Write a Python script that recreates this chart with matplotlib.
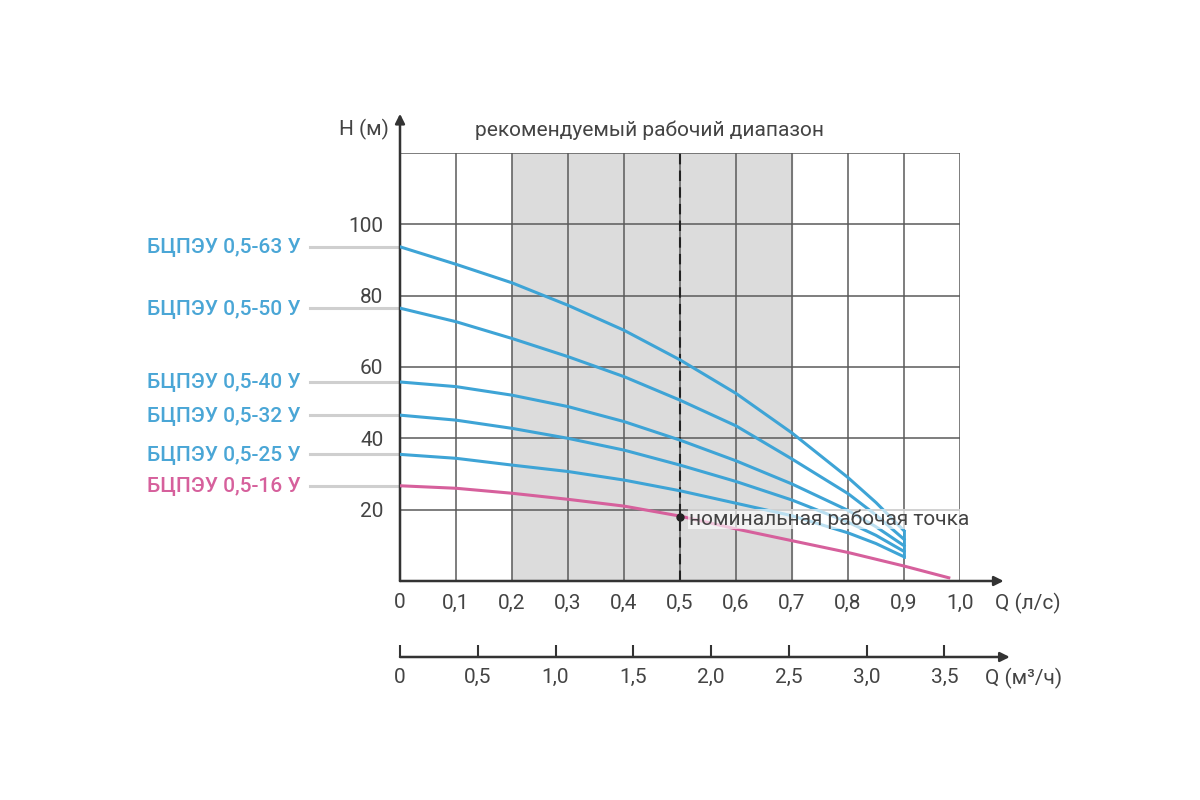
import matplotlib
matplotlib.use("Agg")
import matplotlib.pyplot as plt
from matplotlib import font_manager

# ---------------- data ----------------
q_ls = [0.0, 0.1, 0.2, 0.3, 0.4, 0.5, 0.6, 0.7, 0.8, 0.85, 0.9]
h_63 = [93.7, 88.8, 83.6, 77.3, 70.3, 62.0, 52.6, 41.5, 29.0, 22.0, 14.1]
h_50 = [76.5, 72.7, 68.0, 62.9, 57.3, 50.7, 43.5, 34.2, 24.5, 18.5, 11.7]
h_40 = [55.8, 54.5, 52.1, 48.9, 44.7, 39.5, 33.7, 27.2, 19.8, 15.2, 9.9]
h_32 = [46.5, 45.1, 42.8, 40.0, 36.7, 32.5, 27.9, 22.7, 16.5, 12.8, 8.3]
h_25 = [35.5, 34.4, 32.5, 30.7, 28.3, 25.3, 21.8, 18.3, 13.5, 10.5, 6.8]
q_16 = [0.0, 0.1, 0.2, 0.3, 0.4, 0.5, 0.6, 0.7, 0.8, 0.9, 0.98]
h_16 = [26.7, 26.0, 24.6, 22.9, 21.0, 18.2, 14.6, 11.3, 8.0, 4.2, 0.9]

series_names = ["БЦПЭУ 0,5-63 У", "БЦПЭУ 0,5-50 У", "БЦПЭУ 0,5-40 У",
                "БЦПЭУ 0,5-32 У", "БЦПЭУ 0,5-25 У", "БЦПЭУ 0,5-16 У"]

x_ticks = [0.0, 0.1, 0.2, 0.3, 0.4, 0.5, 0.6, 0.7, 0.8, 0.9, 1.0]
x_labels = ["0", "0,1", "0,2", "0,3", "0,4", "0,5", "0,6", "0,7", "0,8", "0,9", "1,0"]
y_ticks = [20, 40, 60, 80, 100]
y_labels = ["20", "40", "60", "80", "100"]
m3h_ticks = [0.0, 0.5, 1.0, 1.5, 2.0, 2.5, 3.0, 3.5]
m3h_labels = ["0", "0,5", "1,0", "1,5", "2,0", "2,5", "3,0", "3,5"]

range_lo, range_hi = 0.2, 0.7
nominal_q, nominal_h = 0.5, 18.0

title_text = "рекомендуемый рабочий диапазон"
nominal_text = "номинальная рабочая точка"

# ---------------- style ----------------
names = {f.name for f in font_manager.fontManager.ttflist}
main_font = "Liberation Sans Narrow" if "Liberation Sans Narrow" in names else "Roboto"
plt.rcParams["font.family"] = [main_font, "DejaVu Sans"]

BLUE = "#3ea4d6"
BLUE_TXT = "#4aa6d6"
PINK = "#d6609c"
GRID = "#5a5a5a"
TXT = "#444444"

fig = plt.figure(figsize=(12, 8), dpi=100)
fig.patch.set_facecolor("white")

L, R = 400 / 1200, 960 / 1200
B, T = 1 - 581 / 800, 1 - 153 / 800
ax = fig.add_axes([L, B, R - L, T - B])
ax.set_xlim(0, 1.0)
ax.set_ylim(0, 120)
for s in ax.spines.values():
    s.set_visible(False)

# shaded recommended range
ax.axvspan(range_lo, range_hi, color="#dcdcdc", zorder=0)

# grid
for xv in x_ticks[1:]:
    ax.plot([xv, xv], [0, 120], color=GRID, lw=1.1, zorder=1)
for yv in y_ticks + [120]:
    ax.plot([0, 1.0], [yv, yv], color=GRID, lw=1.1, zorder=1)

# dashed nominal line
ax.plot([nominal_q, nominal_q], [0, 120], color="#222222", lw=1.5,
        ls=(0, (5, 3)), zorder=2)

# axes arrows
arrow_kw = dict(arrowstyle="-|>", color="#333333", lw=1.8,
                mutation_scale=14, shrinkA=0, shrinkB=0)
ax.annotate("", xy=(1.078, 0), xytext=(0, 0), xycoords="data",
            arrowprops=arrow_kw, annotation_clip=False, zorder=3)
ax.annotate("", xy=(0, 131), xytext=(0, 0), xycoords="data",
            arrowprops=arrow_kw, annotation_clip=False, zorder=3)

# curves
blue_series = [h_63, h_50, h_40, h_32, h_25]
for h in blue_series:
    ax.plot(q_ls, h, color=BLUE, lw=2.2, zorder=4, solid_joinstyle="round")
ends = [h[-1] for h in blue_series]
ax.plot([q_ls[-1], q_ls[-1]], [min(ends), max(ends)], color=BLUE, lw=2.0, zorder=4)
ax.plot(q_16, h_16, color=PINK, lw=2.2, zorder=4, solid_joinstyle="round")

# nominal point
ax.plot([nominal_q], [nominal_h], "o", color="#222222", ms=5, zorder=6)
ax.text(nominal_q + 0.016, nominal_h - 0.6, nominal_text, fontsize=15, color=TXT,
        va="center", ha="left", zorder=5,
        bbox=dict(facecolor="white", edgecolor="none", alpha=0.65, pad=0.5))

# ticks
ax.set_xticks(x_ticks)
ax.set_xticklabels(x_labels, fontsize=15, color=TXT)
ax.set_yticks(y_ticks)
ax.set_yticklabels(y_labels, fontsize=15, color=TXT)
ax.tick_params(axis="both", length=0)
ax.tick_params(axis="x", pad=9)
ax.tick_params(axis="y", pad=12)

# axis titles
ax.text(1.063, -6.2, "Q (л/с)", fontsize=15, color=TXT, va="center", ha="left",
        clip_on=False)
ax.text(1.045, -27.2, "Q (м³/ч)", fontsize=15, color=TXT, va="center", ha="left",
        clip_on=False)
ax.text(-0.02, 126.5, "H (м)", fontsize=15, color=TXT, va="center", ha="right",
        clip_on=False)
ax.text(0.445, 126.5, title_text, fontsize=15, color=TXT, va="center",
        ha="center", clip_on=False)

# series labels with leader lines
label_colors = [BLUE_TXT] * 5 + [PINK]
starts = [h[0] for h in blue_series] + [h_16[0]]
for name, hs, col in zip(series_names, starts, label_colors):
    ax.plot([-0.16, 0], [hs, hs], color="#cfcfcf", lw=2.2, clip_on=False, zorder=1)
    ax.text(-0.177, hs, name, fontsize=15, color=col, ha="right", va="center",
            fontweight="medium", clip_on=False)

# second axis in m3/h
B2 = 1 - 657 / 800
ax2 = fig.add_axes([L, B2, R - L, 0.0001])
ax2.set_xlim(0, 3.6)
ax2.set_ylim(0, 1)
for s in ax2.spines.values():
    s.set_visible(False)
ax2.set_yticks([])
ax2.set_xticks(m3h_ticks)
ax2.set_xticklabels(m3h_labels, fontsize=15, color=TXT)
ax2.tick_params(axis="x", direction="in", length=9, width=1.5, color="#333333", pad=8)
ax2.annotate("", xy=(3.92, 0), xytext=(0, 0), xycoords="data",
             arrowprops=arrow_kw, annotation_clip=False)

fig.savefig("out.png", dpi=100, facecolor="white")
